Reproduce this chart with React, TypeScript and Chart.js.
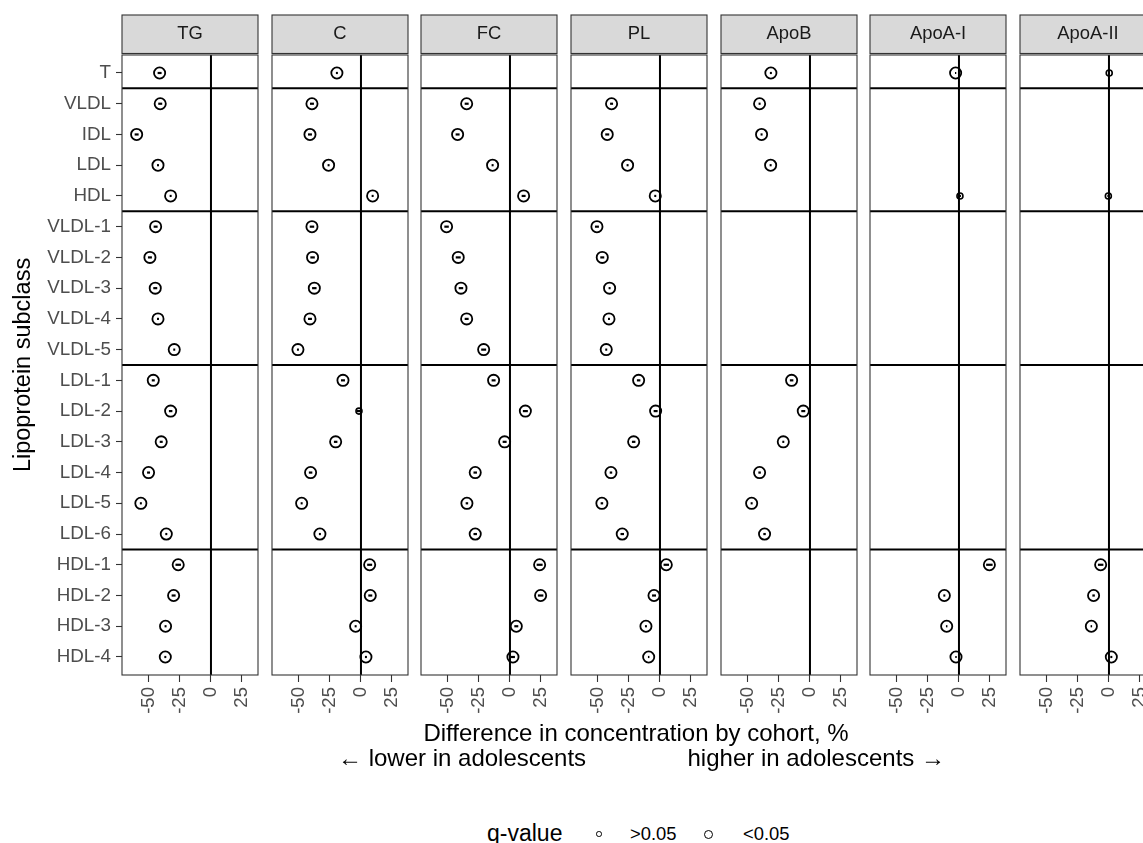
import React, { useEffect, useRef } from "react";
import { Chart, registerables } from "chart.js";

Chart.register(...registerables);

const FONT = "'Liberation Sans', Arial, Helvetica, sans-serif";
Chart.defaults.font.family = FONT;

// ---------- data ----------
const subclasses = [
  "T", "VLDL", "IDL", "LDL", "HDL",
  "VLDL-1", "VLDL-2", "VLDL-3", "VLDL-4", "VLDL-5",
  "LDL-1", "LDL-2", "LDL-3", "LDL-4", "LDL-5", "LDL-6",
  "HDL-1", "HDL-2", "HDL-3", "HDL-4",
];
// index of the first subclass of each new facet row
const groupStarts = [1, 5, 10, 16];
const panelNames = ["TG", "C", "FC", "PL", "ApoB", "ApoA-I", "ApoA-II"];
const xTickValues = [-50, -25, 0, 25];

// difference in concentration, %
const tgDiff = [-41.4, -40.9, -59.9, -42.7, -32.5, -44.6, -49.2, -44.9, -42.7, -29.6, -46.5, -32.5, -40.1, -50.3, -56.5, -36.0, -26.4, -30.1, -36.6, -36.8];
const cDiff = [-19.4, -39.5, -41.1, -26.1, 9.4, -39.5, -39.0, -37.6, -41.1, -50.8, -14.5, -1.6, -20.4, -40.6, -47.8, -33.1, 7.0, 7.5, -4.3, 4.0];
const fcDiff = [null, -34.9, -42.2, -14.0, 11.0, -51.1, -41.7, -39.5, -34.9, -21.2, -13.2, 12.4, -4.3, -28.0, -34.7, -28.0, 23.9, 24.7, 5.1, 2.4];
const plDiff = [null, -39.0, -42.5, -26.1, -3.8, -50.8, -46.5, -40.6, -41.1, -43.3, -17.2, -3.5, -21.2, -39.5, -46.8, -30.4, 5.1, -4.8, -11.3, -9.1];
const apoBDiff = [-31.5, -40.6, -39.0, -31.7, null, null, null, null, null, null, -14.8, -5.4, -21.5, -40.6, -47.0, -36.6, null, null, null, null];
const apoA1Diff = [-2.7, null, null, null, 0.8, null, null, null, null, null, null, null, null, null, null, null, 24.5, -11.8, -9.9, -2.4];
const apoA2Diff = [0.2, null, null, null, -0.5, null, null, null, null, null, null, null, null, null, null, null, -6.7, -12.4, -14.2, 1.9];

// 1 = q < 0.05, 0 = q > 0.05
const tgSig = [1, 1, 1, 1, 1, 1, 1, 1, 1, 1, 1, 1, 1, 1, 1, 1, 1, 1, 1, 1];
const cSig = [1, 1, 1, 1, 1, 1, 1, 1, 1, 1, 1, 0, 1, 1, 1, 1, 1, 1, 1, 1];
const fcSig = [null, 1, 1, 1, 1, 1, 1, 1, 1, 1, 1, 1, 1, 1, 1, 1, 1, 1, 1, 1];
const plSig = [null, 1, 1, 1, 1, 1, 1, 1, 1, 1, 1, 1, 1, 1, 1, 1, 1, 1, 1, 1];
const apoBSig = [1, 1, 1, 1, null, null, null, null, null, null, 1, 1, 1, 1, 1, 1, null, null, null, null];
const apoA1Sig = [1, null, null, null, 0, null, null, null, null, null, null, null, null, null, null, null, 1, 1, 1, 1];
const apoA2Sig = [0, null, null, null, 0, null, null, null, null, null, null, null, null, null, null, null, 1, 1, 1, 1];

// confidence interval half-width, %
const tgCI = [1.6, 1.6, 1.6, 0.8, 0.8, 1.6, 1.6, 1.6, 0.8, 0.8, 1.2, 1.4, 1.2, 1.2, 0.8, 0.8, 2.2, 1.6, 0.8, 0.8];
const cCI = [0.8, 1.6, 1.6, 0.8, 0.8, 1.8, 1.8, 1.8, 1.6, 0.8, 1.6, 1.6, 1.4, 1.4, 0.8, 0.8, 2.0, 1.6, 0.8, 0.8];
const fcCI = [null, 1.6, 1.6, 0.8, 1.6, 1.8, 2.0, 1.8, 1.6, 2.0, 1.6, 2.0, 1.6, 1.4, 1.0, 1.4, 2.4, 2.2, 1.6, 1.6];
const plCI = [null, 1.2, 1.6, 0.8, 0.8, 1.6, 1.6, 0.8, 0.8, 0.8, 1.4, 1.6, 1.4, 1.0, 1.0, 1.4, 2.2, 1.6, 0.8, 0.6];
const apoBCI = [0.8, 0.8, 0.8, 0.8, null, null, null, null, null, null, 1.4, 1.6, 0.8, 1.0, 0.8, 1.0, null, null, null, null];
const apoA1CI = [0.5, null, null, null, 0.8, null, null, null, null, null, null, null, null, null, null, null, 2.6, 0.8, 0.6, 0.6];
const apoA2CI = [0.5, null, null, null, 0.8, null, null, null, null, null, null, null, null, null, null, null, 2.2, 1.0, 0.6, 0.8];

const panelDiffs = [tgDiff, cDiff, fcDiff, plDiff, apoBDiff, apoA1Diff, apoA2Diff];
const panelSig = [tgSig, cSig, fcSig, plSig, apoBSig, apoA1Sig, apoA2Sig];
const panelCI = [tgCI, cCI, fcCI, plCI, apoBCI, apoA1CI, apoA2CI];

// ---------- layout ----------
const X_MIN = -71.7;
const X_MAX = 37.9;
const Y_MIN = -0.586;
const Y_MAX = 19.586;
const PANEL_LEFTS = [122, 272, 421, 571, 721, 870, 1020];
const PANEL_W = 136;
const STRIP_TOP = 15;
const CANVAS_H = 730;
const PLOT_BOTTOM = 675;

const panelFrame = {
  id: "panelFrame",
  beforeDraw(chart: any) {
    const { ctx, chartArea: a } = chart;
    ctx.save();
    ctx.fillStyle = "#D9D9D9";
    ctx.fillRect(a.left, STRIP_TOP, a.right - a.left, a.top - STRIP_TOP - 1.5);
    ctx.strokeStyle = "#333333";
    ctx.lineWidth = 1.1;
    ctx.strokeRect(a.left, STRIP_TOP, a.right - a.left, a.top - STRIP_TOP - 1.5);
    ctx.restore();
  },
  beforeDatasetsDraw(chart: any) {
    const { ctx, chartArea: a, scales } = chart;
    ctx.save();
    ctx.strokeStyle = "#000000";
    ctx.lineWidth = 2;
    for (const g of groupStarts) {
      const y = scales.y.getPixelForValue(g - 0.5);
      ctx.beginPath();
      ctx.moveTo(a.left, y);
      ctx.lineTo(a.right, y);
      ctx.stroke();
    }
    const x0 = scales.x.getPixelForValue(0);
    ctx.beginPath();
    ctx.moveTo(x0, a.top);
    ctx.lineTo(x0, a.bottom);
    ctx.stroke();
    ctx.strokeStyle = "#333333";
    ctx.lineWidth = 1.1;
    ctx.strokeRect(a.left, a.top, a.right - a.left, a.bottom - a.top);
    ctx.restore();
  },
};

function Panel({ k }: { k: number }) {
  const ref = useRef<HTMLCanvasElement>(null);
  const first = k === 0;
  const canvasLeft = first ? 0 : PANEL_LEFTS[k] - 3;
  const canvasW = first ? PANEL_LEFTS[0] + PANEL_W + 3 : PANEL_W + 6;

  useEffect(() => {
    const diffs = panelDiffs[k];
    const sig = panelSig[k];
    const ci = panelCI[k];
    const pts: any[] = [];
    const ciPts: any[] = [];
    diffs.forEach((v, i) => {
      if (v === null) return;
      pts.push({ x: v, y: i, s: sig[i] });
      ciPts.push({ x: v, y: i, h: ci[i] });
    });

    const chart = new Chart(ref.current as HTMLCanvasElement, {
      type: "scatter",
      data: {
        datasets: [
          {
            data: pts,
            pointStyle: "circle",
            pointBackgroundColor: "rgba(0,0,0,0)",
            pointBorderColor: "#000000",
            pointRadius: (c: any) => (c.raw && c.raw.s ? 5.6 : 3.0),
            pointBorderWidth: (c: any) => (c.raw && c.raw.s ? 1.8 : 1.6),
          },
          {
            data: ciPts,
            pointStyle: "line",
            pointBorderColor: "#000000",
            pointBorderWidth: 2.2,
            pointRadius: (c: any) => {
              if (!c.raw) return 0;
              const xs = c.chart.scales.x;
              return Math.abs(xs.getPixelForValue(c.raw.h) - xs.getPixelForValue(0));
            },
          },
        ],
      } as any,
      options: {
        responsive: false,
        animation: false,
        events: [],
        layout: {
          autoPadding: false,
          padding: { top: STRIP_TOP, left: first ? 0 : 3, right: 3, bottom: 0 },
        },
        plugins: {
          legend: { display: false },
          tooltip: { enabled: false },
          title: {
            display: true,
            text: panelNames[k],
            fullSize: false,
            color: "#1A1A1A",
            font: { family: FONT, size: 18.4, weight: "normal" },
            padding: { top: 8, bottom: 9.9 },
          },
        },
        scales: {
          x: {
            type: "linear",
            position: "bottom",
            min: X_MIN,
            max: X_MAX,
            border: { display: false },
            grid: {
              drawOnChartArea: false,
              drawTicks: true,
              tickLength: 7,
              tickColor: "#333333",
              tickWidth: 1.1,
            },
            ticks: {
              autoSkip: false,
              minRotation: 90,
              maxRotation: 90,
              padding: 5,
              color: "#4D4D4D",
              font: { family: FONT, size: 18.6 },
              callback: (v: any) => String(v),
            },
            afterBuildTicks: (s: any) => {
              s.ticks = xTickValues.map((v) => ({ value: v }));
            },
            afterFit: (s: any) => {
              s.height = CANVAS_H - PLOT_BOTTOM;
              s.paddingLeft = 0;
              s.paddingRight = 0;
              s.paddingTop = 0;
              s.paddingBottom = 0;
            },
          },
          y: {
            type: "linear",
            display: first,
            reverse: true,
            min: Y_MIN,
            max: Y_MAX,
            border: { display: false },
            grid: {
              drawOnChartArea: false,
              drawTicks: true,
              tickLength: 6,
              tickColor: "#333333",
              tickWidth: 1.1,
            },
            ticks: {
              autoSkip: false,
              padding: 5,
              color: "#4D4D4D",
              font: { family: FONT, size: 18.8 },
              callback: (v: any) => subclasses[v as number],
            },
            afterBuildTicks: (s: any) => {
              s.ticks = subclasses.map((_, i) => ({ value: i }));
            },
            afterFit: (s: any) => {
              if (first) s.width = PANEL_LEFTS[0];
              s.paddingTop = 0;
              s.paddingBottom = 0;
              s.paddingLeft = 0;
              s.paddingRight = 0;
            },
            title: {
              display: true,
              text: "Lipoprotein subclass",
              color: "#000000",
              font: { family: FONT, size: 23.5 },
              padding: { top: 9, bottom: 0 },
            },
          },
        },
      } as any,
      plugins: [panelFrame],
    });
    return () => chart.destroy();
  }, [k]);

  return (
    <canvas
      ref={ref}
      width={canvasW}
      height={CANVAS_H}
      style={{ position: "absolute", left: canvasLeft, top: 0, width: canvasW, height: CANVAS_H }}
    />
  );
}

const textBase: React.CSSProperties = {
  position: "absolute",
  whiteSpace: "nowrap",
  color: "#000000",
  fontFamily: FONT,
};

export default function App() {
  return (
    <div
      style={{
        position: "fixed",
        left: 0,
        top: 0,
        width: 1143,
        height: 843,
        overflow: "hidden",
        background: "#ffffff",
        fontFamily: FONT,
      }}
    >
      {panelNames.map((_, k) => (
        <Panel key={k} k={k} />
      ))}
      <div style={{ ...textBase, left: 636, top: 721, transform: "translateX(-50%)", fontSize: 24, lineHeight: "24px" }}>
        Difference in concentration by cohort, %
      </div>
      <div style={{ ...textBase, left: 338, top: 746, fontSize: 24, lineHeight: "24px" }}>
        ← lower in adolescents
      </div>
      <div style={{ ...textBase, right: 1143 - 945, top: 746, fontSize: 24, lineHeight: "24px" }}>
        higher in adolescents →
      </div>

      <div style={{ ...textBase, left: 487, top: 822, fontSize: 23, lineHeight: "23px" }}>q-value</div>
      <div
        style={{
          position: "absolute",
          left: 599 - 2.75,
          top: 834 - 2.75,
          width: 5.5,
          height: 5.5,
          boxSizing: "border-box",
          border: "1.3px solid #000",
          borderRadius: "50%",
        }}
      />
      <div style={{ ...textBase, left: 630, top: 825, fontSize: 18.4, lineHeight: "18.4px" }}>&gt;0.05</div>
      <div
        style={{
          position: "absolute",
          left: 708 - 4.5,
          top: 834 - 4.5,
          width: 9,
          height: 9,
          boxSizing: "border-box",
          border: "1.4px solid #000",
          borderRadius: "50%",
        }}
      />
      <div style={{ ...textBase, left: 743, top: 825, fontSize: 18.4, lineHeight: "18.4px" }}>&lt;0.05</div>
    </div>
  );
}
